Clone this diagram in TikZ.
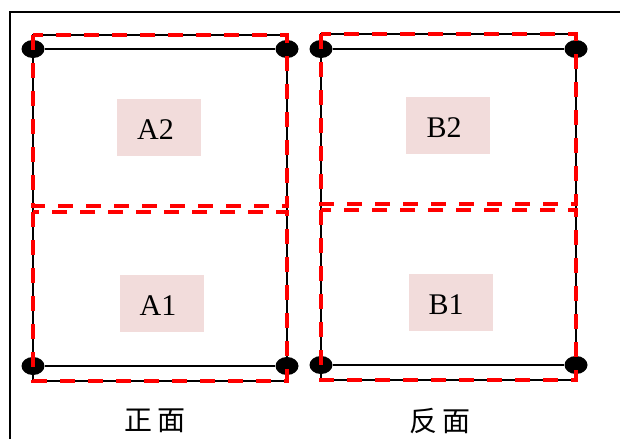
\documentclass[tikz,border=0pt]{standalone}
\usepackage{fontspec}
\setmainfont{Liberation Serif}
\newfontfamily\cjk{Noto Sans CJK SC}
\usetikzlibrary{shapes.geometric}
\definecolor{lblpink}{HTML}{F2DCDB}
\definecolor{dashred}{HTML}{FF0000}
\tikzset{
  frameline/.style={line width=1.8pt, black},
  panelline/.style={line width=1.6pt, black},
  halfbox/.style={draw=dashred, line width=3.4pt, dash pattern=on 15pt off 13pt},
  pin/.style={ellipse, fill=black, minimum width=23pt, minimum height=18pt, inner sep=0pt},
  lbl/.style={fill=lblpink, minimum width=84pt, minimum height=57pt, inner sep=0pt},
  lbltext/.style={inner sep=0pt, font=\fontsize{30}{30}\selectfont},
  side/.style={font=\cjk\fontsize{28}{28}\selectfont}
}
\begin{document}
\begin{tikzpicture}[x=1pt,y=-1pt]
\useasboundingbox (0,0) rectangle (620,439);
% outer frame (only left and top edges visible)
\draw[frameline] (10,439) -- (10,12) -- (620,12);

% label boxes
\node[lbl] (A2) at (159,127.5) {};
\node[lbl] (A1) at (162,303.5) {};
\node[lbl] (B2) at (448,125) {};
\node[lbl] (B1) at (451,302.5) {};
\node[lbltext] (tA2) at ([shift={(-3.5,2.5)}]A2.center) {A2};
\node[lbltext] (tA1) at ([shift={(-4,2.5)}]A1.center) {A1};
\node[lbltext] (tB2) at ([shift={(-4,2.5)}]B2.center) {B2};
\node[lbltext] (tB1) at ([shift={(-5,2.5)}]B1.center) {B1};

% black panel outlines
\draw[panelline] (33,35) rectangle (287,381);
\draw[panelline] (321,34) rectangle (576,380);

% pins
\node[pin] (ptl) at (33,49) {};
\node[pin] (ptr) at (287,49) {};
\node[pin] (pbl) at (33,366) {};
\node[pin] (pbr) at (287,366) {};
\node[pin] (qtl) at (321,49) {};
\node[pin] (qtr) at (576,49) {};
\node[pin] (qbl) at (321,365) {};
\node[pin] (qbr) at (576,365) {};

% black lines between pins
\draw[panelline] (ptl) -- (ptr);
\draw[panelline] (pbl) -- (pbr);
\draw[panelline] (qtl) -- (qtr);
\draw[panelline] (qbl) -- (qbr);

% red dashed halves
\draw[halfbox] (33,35) rectangle (287,206);
\draw[halfbox] (33,212) rectangle (287,381);
\draw[halfbox] (321,34) rectangle (576,204);
\draw[halfbox] (321,210) rectangle (576,380);

% side captions
\node[side] (front) at (155,421) {正\hspace{5pt}面};
\node[side] (back) at (440,421) {反\hspace{5pt}面};
\end{tikzpicture}
\end{document}
